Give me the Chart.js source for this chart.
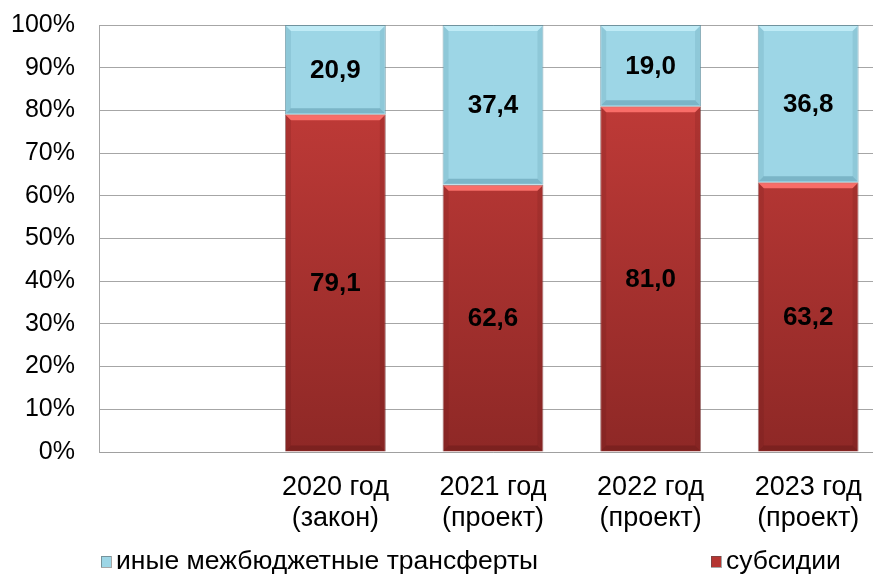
<!DOCTYPE html>
<html>
<head>
<meta charset="utf-8">
<script src="https://cdn.jsdelivr.net/npm/chart.js@4/dist/chart.umd.min.js"></script>
<style>
html,body{margin:0;padding:0;background:#fff;overflow:hidden;width:873px;height:577px;}
canvas{display:block;}
</style>
</head>
<body>
<canvas id="c" width="888" height="577"></canvas>
<script>
const categories = ['', ['2020 год', '(закон)'], ['2021 год', '(проект)'], ['2022 год', '(проект)'], ['2023 год', '(проект)']];
const seriesNames = ['субсидии', 'иные межбюджетные трансферты'];
const subsidies = [null, 79.1, 62.6, 81.0, 63.2];
const otherTransfers = [null, 20.9, 37.4, 19.0, 36.8];
const yTicks = [0, 10, 20, 30, 40, 50, 60, 70, 80, 90, 100];

const FONT = "'Liberation Sans', Arial, sans-serif";
const BLUE = '#9dd6e6';

function redGradient(ctx) {
  const ca = ctx.chart.chartArea;
  if (!ca) return '#b53532';
  const g = ctx.chart.ctx.createLinearGradient(0, ca.top, 0, ca.bottom);
  g.addColorStop(0, '#c93e3b');
  g.addColorStop(1, '#8e2826');
  return g;
}

const bevelPlugin = {
  id: 'bevel',
  afterDatasetsDraw(chart) {
    const ctx = chart.ctx;
    chart.data.datasets.forEach((ds, di) => {
      const meta = chart.getDatasetMeta(di);
      meta.data.forEach((bar, i) => {
        if (ds.data[i] == null) return;
        const w = bar.width;
        const l = bar.x - w / 2, r = bar.x + w / 2;
        const t = bar.y, b = bar.base;
        const d = 6;
        ctx.save();
        ctx.fillStyle = di === 0 ? 'rgba(255,115,110,0.9)' : 'rgba(200,240,250,0.8)';
        ctx.beginPath();
        ctx.moveTo(l + 1, t + 1); ctx.lineTo(r - 1, t + 1); ctx.lineTo(r - d, t + d); ctx.lineTo(l + d, t + d); ctx.closePath();
        ctx.fill();
        ctx.fillStyle = di === 0 ? 'rgba(90,20,20,0.35)' : 'rgba(60,120,140,0.35)';
        ctx.beginPath();
        ctx.moveTo(l + 1, b - 1); ctx.lineTo(r - 1, b - 1); ctx.lineTo(r - d, b - d); ctx.lineTo(l + d, b - d); ctx.closePath();
        ctx.fill();
        ctx.fillStyle = di === 0 ? 'rgba(90,20,20,0.15)' : 'rgba(60,120,140,0.15)';
        ctx.beginPath();
        ctx.moveTo(l + 1, t + 1); ctx.lineTo(l + d, t + d); ctx.lineTo(l + d, b - d); ctx.lineTo(l + 1, b - 1); ctx.closePath();
        ctx.fill();
        ctx.beginPath();
        ctx.moveTo(r - 1, t + 1); ctx.lineTo(r - d, t + d); ctx.lineTo(r - d, b - d); ctx.lineTo(r - 1, b - 1); ctx.closePath();
        ctx.fill();
        ctx.restore();
      });
    });
  }
};

const labelPlugin = {
  id: 'valueLabels',
  afterDatasetsDraw(chart) {
    const ctx = chart.ctx;
    ctx.save();
    ctx.font = 'bold 26px ' + FONT;
    ctx.fillStyle = '#000';
    ctx.textAlign = 'center';
    ctx.textBaseline = 'middle';
    chart.data.datasets.forEach((ds, di) => {
      const meta = chart.getDatasetMeta(di);
      meta.data.forEach((bar, i) => {
        const v = ds.data[i];
        if (v == null) return;
        ctx.fillText(v.toFixed(1).replace('.', ','), bar.x, (bar.y + bar.base) / 2 + 1);
      });
    });
    ctx.restore();
  }
};

const legendPlugin = {
  id: 'customLegend',
  afterDraw(chart) {
    const ctx = chart.ctx;
    const items = [
      {text: seriesNames[1], color: BLUE, x: 101},
      {text: seriesNames[0], color: '#b53532', x: 711}
    ];
    ctx.save();
    ctx.font = '26.5px ' + FONT;
    ctx.textBaseline = 'middle';
    ctx.textAlign = 'left';
    const y = 562;
    items.forEach(it => {
      ctx.fillStyle = it.color;
      ctx.fillRect(it.x, y - 6, 10, 11);
      ctx.strokeStyle = 'rgba(80,80,80,0.5)';
      ctx.lineWidth = 1;
      ctx.strokeRect(it.x + 0.5, y - 5.5, 10, 11);
      ctx.fillStyle = '#000';
      ctx.fillText(it.text, it.x + 15, y);
    });
    ctx.restore();
  }
};

new Chart(document.getElementById('c'), {
  type: 'bar',
  data: {
    labels: categories,
    datasets: [
      {label: seriesNames[0], data: subsidies, backgroundColor: redGradient, borderColor: 'rgba(110,40,40,0.6)', borderWidth: 1, barPercentage: 0.64, categoryPercentage: 1},
      {label: seriesNames[1], data: otherTransfers, backgroundColor: BLUE, borderColor: 'rgba(90,140,155,0.7)', borderWidth: 1, barPercentage: 0.64, categoryPercentage: 1}
    ]
  },
  options: {
    responsive: false,
    animation: false,
    layout: {padding: {top: 25, right: 1, bottom: 45, left: 0}},
    plugins: {legend: {display: false}, tooltip: {enabled: false}},
    scales: {
      x: {
        stacked: true,
        grid: {display: false, drawTicks: false},
        border: {display: true, color: '#a0a0a0'},
        ticks: {color: '#000', font: {family: FONT, size: 27, lineHeight: 1.15}, padding: 20, maxRotation: 0, autoSkip: false},
        afterFit(s) { s.height = 80; }
      },
      y: {
        stacked: true,
        min: 0, max: 100,
        afterBuildTicks(s) { s.ticks = yTicks.map(v => ({value: v})); },
        grid: {color: '#a6a6a6', lineWidth: 1, drawTicks: false},
        border: {display: true, color: '#a6a6a6'},
        ticks: {color: '#000', font: {family: FONT, size: 25}, padding: 24, callback: v => v + '%'},
        afterFit(s) { s.width = 99; s.paddingTop = 0; s.paddingBottom = 0; }
      }
    }
  },
  plugins: [bevelPlugin, labelPlugin, legendPlugin]
});
</script>
</body>
</html>
